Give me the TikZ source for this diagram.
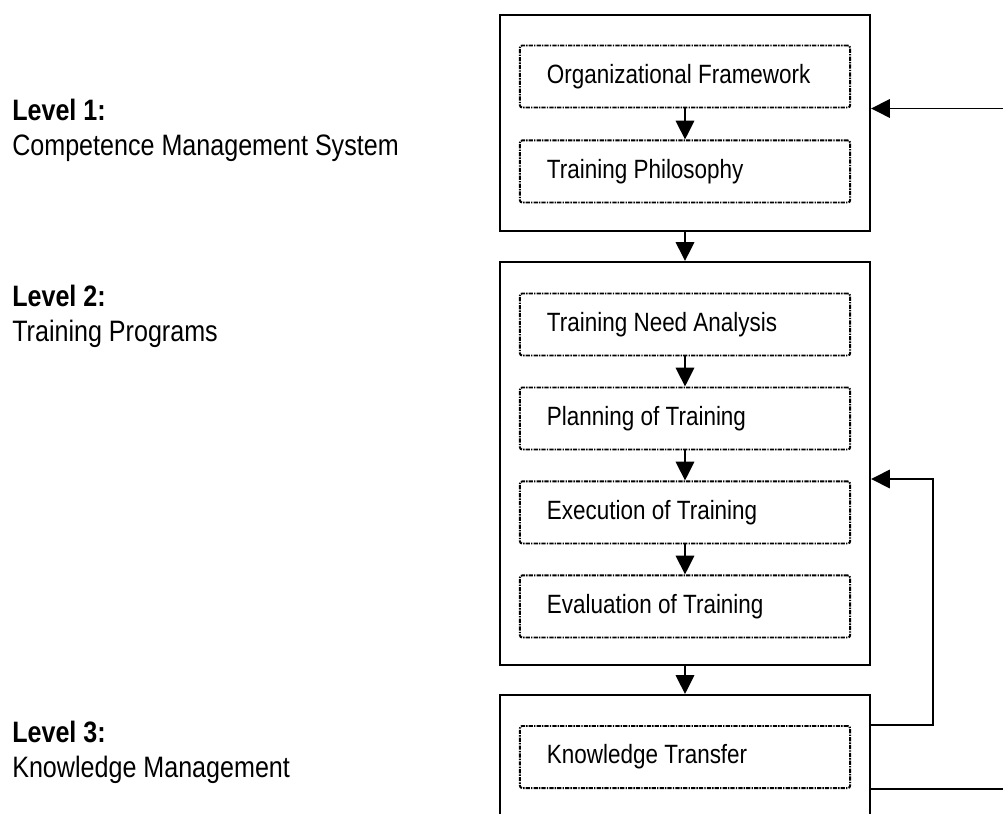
\documentclass[tikz,border=0pt]{standalone}
\usepackage{fontspec}
\setmainfont[FakeStretch=0.85]{Liberation Sans}
\usetikzlibrary{arrows.meta,positioning}

\tikzset{
  outer/.style={draw, line width=1.4pt, minimum width=9.25cm},
  stage/.style={draw, line width=1.4pt, dash pattern=on 3pt off 0.8pt on 1pt off 0.8pt,
    rounded corners=1.5pt, minimum height=1.55cm, text width=6.9cm, inner xsep=0.675cm,
    align=flush left, font=\fontsize{18.8}{22}\selectfont},
  flow/.style={line width=1.4pt, -{Triangle[length=0.47cm,width=0.46cm]}},
  level/.style={anchor=base west, inner sep=0pt, font=\fontsize{21}{25}\selectfont},
}

\begin{document}
\begin{tikzpicture}[x=0.025cm, y=-0.025cm]
  \clip (0,0) rectangle (1003,813);
  \fill[white] (0,0) rectangle (1003,813);

  % level names on the left
  \node[level] (lvl1) at (12,121) {\bfseries Level 1:};
  \node[level] (lvl1txt) at (12,156) {Competence Management System};
  \node[level] (lvl2) at (12,306) {\bfseries Level 2:};
  \node[level] (lvl2txt) at (12,341) {Training Programs};
  \node[level] (lvl3) at (12,742) {\bfseries Level 3:};
  \node[level] (lvl3txt) at (12,777) {Knowledge Management};

  \begin{scope}
    \node[outer, minimum height=5.4cm] (boxa) at (685,123) {};
    \node[stage] (org) at (685,76.5) {Organizational Framework};
    \node[stage, below=0.775cm of org] (phil) {Training Philosophy};
  \end{scope}

  \begin{scope}
    \node[outer, minimum height=10.075cm] (boxb) at (685,463.5) {};
    \node[stage] (tna) at (685,324.5) {Training Need Analysis};
    \node[stage, below=0.75cm of tna] (plan) {Planning of Training};
    \node[stage, below=0.75cm of plan] (exec) {Execution of Training};
    \node[stage, below=0.75cm of exec] (eval) {Evaluation of Training};
  \end{scope}

  \begin{scope}
    % runs on below the page edge
    \node[outer, minimum height=3.875cm] (boxc) at (685,772.5) {};
    \node[stage] (kt) at (685,757) {Knowledge Transfer};
  \end{scope}

  \coordinate (inA) at (1010,108);
  \coordinate (outC) at (inA |- kt.south);
  \coordinate (ret) at (933,479);

  \draw[flow] (org) -- (phil);
  \draw[flow] (tna) -- (plan);
  \draw[flow] (plan) -- (exec);
  \draw[flow] (exec) -- (eval);
  \draw[flow] (boxa) -- (boxb);
  \draw[flow] (boxb) -- (boxc);

  \draw[flow] (inA |- org.south) -- (boxa.east |- org.south);
  \draw[flow] (boxc.east |- kt.north) -| (ret) -- (boxb.east |- ret);
  \draw[line width=1.4pt] (boxc.east |- kt.south) -- (outC);
\end{tikzpicture}
\end{document}
